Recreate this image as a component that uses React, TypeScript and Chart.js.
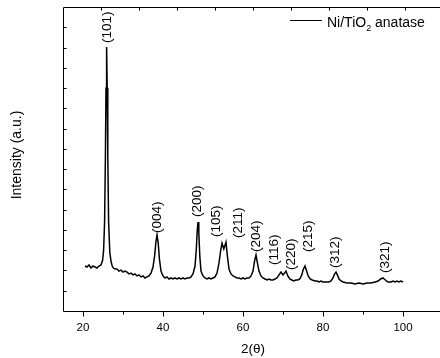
import { useEffect, useRef } from "react";
import { Chart, registerables } from "chart.js";

Chart.register(...registerables);

// ---- data ----
const twoTheta = [
  20.5, 21.0, 21.5, 22.0, 22.5, 23.0, 23.5, 24.0, 24.5, 24.9, 25.15, 25.4, 25.6, 25.75, 25.9, 26.05, 26.2, 26.4, 26.7,
  27.0, 27.3, 27.6, 28.0, 28.5, 29.0, 29.5, 30.0, 30.5, 31.0, 31.5, 32.0, 32.5, 33.0, 33.5, 34.0, 34.5, 35.0, 35.5,
  36.0, 36.5, 37.0, 37.5, 37.9, 38.2, 38.5, 38.8, 39.1, 39.5, 40.0, 40.5, 41.0, 41.5, 42.0, 42.5, 43.0, 43.5,
  44.0, 44.5, 45.0, 45.5, 46.0, 46.5, 47.0, 47.5, 48.0, 48.3, 48.55, 48.75, 48.95, 49.2, 49.5, 50.0, 50.5, 51.0,
  51.5, 52.0, 52.5, 53.0, 53.5, 54.0, 54.4, 54.75, 55.2, 55.75, 56.1, 56.5, 57.0, 57.5, 58.0, 58.5, 59.0, 59.5,
  60.0, 60.5, 61.0, 61.5, 62.0, 62.5, 62.9, 63.25, 63.6, 64.0, 64.5, 65.0, 65.5, 66.0, 66.5, 67.0, 67.5, 68.0,
  68.5, 69.0, 69.5, 70.0, 70.4, 70.75, 71.2, 71.7, 72.2, 72.7, 73.2, 73.7, 74.2, 74.7, 75.1, 75.5, 75.9, 76.3,
  76.8, 77.3, 78.0, 78.5, 79.0, 79.5, 80.0, 80.5, 81.0, 81.5, 82.0, 82.5, 82.9, 83.25, 83.6, 84.0, 84.5, 85.0,
  86.0, 87.0, 88.0, 89.0, 90.0, 91.0, 92.0, 93.0, 93.8, 94.4, 95.0, 95.6, 96.2, 97.0, 97.5, 98.0, 98.5, 99.0,
  99.5, 100.0,
];
const intensity = [
  222, 217, 227, 212, 222, 217, 212, 222, 227, 250, 300, 440, 760, 1100, 1303, 1100, 760, 440, 290,
  245, 222, 212, 207, 207, 197, 202, 192, 197, 192, 183, 187, 178, 183, 173, 178, 168, 173, 163,
  168, 173, 187, 217, 271, 336, 375, 336, 257, 197, 173, 163, 168, 158, 163, 158, 163, 158,
  163, 158, 163, 158, 163, 163, 168, 183, 222, 296, 395, 439, 385, 271, 197, 173, 163, 158,
  163, 158, 163, 168, 187, 237, 296, 335, 306, 340, 271, 207, 183, 173, 168, 163, 163, 158,
  163, 158, 163, 163, 173, 197, 247, 276, 237, 197, 173, 163, 158, 153, 158, 153, 153, 158,
  163, 178, 192, 178, 187, 197, 173, 158, 153, 148, 153, 153, 158, 178, 207, 222, 197, 173,
  158, 153, 148, 148, 143, 148, 143, 143, 143, 143, 148, 163, 183, 192, 178, 158, 148, 143,
  138, 138, 133, 138, 133, 138, 138, 143, 148, 158, 163, 153, 143, 143, 148, 143, 148, 143,
  148, 143,
];

const peakLabels = ["(101)", "(004)", "(200)", "(105)", "(211)", "(204)", "(116)", "(220)", "(215)", "(312)", "(321)"];
const peakLabelTwoTheta = [26.0, 38.5, 48.5, 53.25, 58.75, 63.25, 67.75, 72.0, 76.25, 83.0, 95.5];
const peakLabelIntensity = [1322, 385, 464, 365, 360, 291, 227, 202, 291, 212, 187];

const xMajorTicks = [20, 40, 60, 80, 100];
const xMinorTicks = [30, 50, 70, 90];
const yTicks = [100, 200, 300, 400, 500, 600, 700, 800, 900, 1000, 1100, 1200, 1300, 1400];
const topTicks = [10, 20, 30, 40, 50, 60, 70, 80, 90];

const seriesMain = "Ni/TiO";
const seriesSub = "2";
const seriesRest = " anatase";
const xTitle = "2(θ)";
const yTitle = "Intensity (a.u.)";

const FONT = '"Liberation Sans", Arial, sans-serif';

const framePlugin = {
  id: "frame",
  afterDatasetsDraw(chart: any) {
    const { ctx, chartArea: ca, scales } = chart;
    const x = scales.x;
    const y = scales.y;
    const x2 = scales.x2;
    const L = Math.round(ca.left) + 0.5;
    const R = Math.round(ca.right) + 0.5;
    const T = Math.round(ca.top) + 0.5;
    const B = Math.round(ca.bottom) + 0.5;
    ctx.save();
    ctx.strokeStyle = "#000";
    ctx.fillStyle = "#000";
    ctx.lineWidth = 1;
    ctx.beginPath();
    ctx.moveTo(R, T);
    ctx.lineTo(L, T);
    ctx.lineTo(L, B);
    ctx.lineTo(R, B);
    ctx.lineTo(R, T);
    for (const v of xMajorTicks) {
      const px = Math.round(x.getPixelForValue(v)) + 0.5;
      ctx.moveTo(px, B);
      ctx.lineTo(px, B + 5);
    }
    for (const v of xMinorTicks) {
      const px = Math.round(x.getPixelForValue(v)) + 0.5;
      ctx.moveTo(px, B);
      ctx.lineTo(px, B + 3);
    }
    for (const v of yTicks) {
      const py = Math.round(y.getPixelForValue(v)) + 0.5;
      ctx.moveTo(L, py);
      ctx.lineTo(L + 3, py);
    }
    for (const v of topTicks) {
      const px = Math.round(x2.getPixelForValue(v)) + 0.5;
      ctx.moveTo(px, T);
      ctx.lineTo(px, T + 3);
    }
    ctx.stroke();

    ctx.font = `11.5px ${FONT}`;
    ctx.textAlign = "center";
    ctx.textBaseline = "middle";
    for (const v of xMajorTicks) {
      ctx.fillText(String(v), x.getPixelForValue(v), B + 16);
    }

    ctx.font = `13.5px ${FONT}`;
    ctx.fillText(xTitle, (ca.left + ca.right) / 2, ca.bottom + 38);
    ctx.save();
    ctx.translate(17.5, (ca.top + ca.bottom) / 2 - 4);
    ctx.rotate(-Math.PI / 2);
    ctx.font = `14px ${FONT}`;
    ctx.fillText(yTitle, 0, 0);
    ctx.restore();

    ctx.font = `13.5px ${FONT}`;
    ctx.textAlign = "left";
    ctx.textBaseline = "middle";
    peakLabels.forEach((lab, i) => {
      const px = x.getPixelForValue(peakLabelTwoTheta[i]);
      const py = y.getPixelForValue(peakLabelIntensity[i]);
      ctx.save();
      ctx.translate(px, py);
      ctx.rotate(-Math.PI / 2);
      ctx.fillText(lab, 0, 0);
      ctx.restore();
    });

    const lx = ca.right - 153;
    const ly = ca.top + 13.5;
    ctx.beginPath();
    ctx.lineWidth = 1;
    ctx.moveTo(lx, ly);
    ctx.lineTo(lx + 32, ly);
    ctx.stroke();
    ctx.textAlign = "left";
    ctx.textBaseline = "alphabetic";
    ctx.font = `14px ${FONT}`;
    let tx = lx + 37;
    const base = ly + 6;
    ctx.fillText(seriesMain, tx, base);
    tx += ctx.measureText(seriesMain).width;
    ctx.font = `9px ${FONT}`;
    ctx.fillText(seriesSub, tx, base + 4);
    tx += ctx.measureText(seriesSub).width;
    ctx.font = `14px ${FONT}`;
    ctx.fillText(seriesRest, tx, base);
    ctx.restore();
  },
};

export default function App() {
  const ref = useRef<HTMLCanvasElement | null>(null);
  useEffect(() => {
    if (!ref.current) return;
    const chart = new Chart(ref.current, {
      type: "line",
      data: {
        datasets: [
          {
            label: seriesMain + seriesSub + seriesRest,
            data: twoTheta.map((t, i) => ({ x: t, y: intensity[i] })),
            borderColor: "#000",
            borderWidth: 1.5,
            pointRadius: 0,
            tension: 0,
            fill: false,
            xAxisID: "x",
            yAxisID: "y",
          },
        ],
      },
      options: {
        responsive: false,
        animation: false,
        layout: { padding: { left: 63, top: 7, right: 7, bottom: 47 } },
        plugins: { legend: { display: false }, tooltip: { enabled: false } },
        scales: {
          x: { type: "linear", display: false, min: 15, max: 110 },
          x2: { type: "linear", position: "top", display: false, min: 0, max: 100 },
          y: { type: "linear", display: false, min: 0, max: 1500 },
        },
      },
      plugins: [framePlugin],
    });
    return () => chart.destroy();
  }, []);
  return (
    <div style={{ position: "absolute", left: 0, top: 0, width: 440, height: 358, overflow: "hidden", background: "#fff" }}>
      <canvas ref={ref} width={450} height={358} style={{ width: 450, height: 358, display: "block" }} />
    </div>
  );
}
